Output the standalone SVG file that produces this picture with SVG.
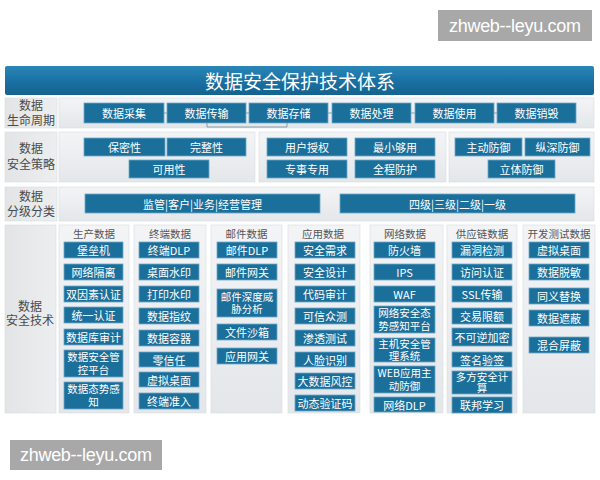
<svg xmlns="http://www.w3.org/2000/svg" width="600" height="480" viewBox="0 0 600 480">
<defs>
<linearGradient id="tg" x1="0" y1="0" x2="0" y2="1"><stop offset="0" stop-color="#2a86b8"/><stop offset="0.5" stop-color="#1a72a4"/><stop offset="1" stop-color="#15628f"/></linearGradient>
<linearGradient id="pg" x1="0" y1="0" x2="0" y2="1"><stop offset="0" stop-color="#f3f4f6"/><stop offset="1" stop-color="#e4e7ea"/></linearGradient>
<linearGradient id="lg" x1="0" y1="0" x2="1" y2="0"><stop offset="0" stop-color="#e2e4e6"/><stop offset="1" stop-color="#eceef0"/></linearGradient>
</defs>
<style>
.panel{fill:url(#pg);stroke:#d8dcdf;stroke-width:0.6}
.lc{fill:url(#lg);stroke:#d8dcdf;stroke-width:0.6}
.box{fill:#1b6f9b;stroke:#6fa9c9;stroke-width:0.8}
.bt{fill:#ffffff;font-family:"Noto Sans CJK SC","Liberation Sans",sans-serif;font-size:11px;text-anchor:middle;dominant-baseline:central}
.b2{fill:#ffffff;font-family:"Noto Sans CJK SC","Liberation Sans",sans-serif;font-size:10.5px;text-anchor:middle}
.lab{fill:#4a4a4a;font-family:"Noto Sans CJK SC",sans-serif;font-size:12px;text-anchor:middle}
.hd{fill:#555555;font-family:"Noto Sans CJK SC",sans-serif;font-size:10.5px;text-anchor:middle;dominant-baseline:central}
.wm{fill:#a8a8a8}
.wt{fill:#ffffff;font-family:"Liberation Sans",sans-serif;font-size:18px;text-anchor:middle;dominant-baseline:central}
.conn{fill:none;stroke:#8a9aa6;stroke-width:1}
</style>
<rect width="600" height="480" fill="#ffffff"/>
<g id="watermark-top"><rect class="wm" x="438" y="10" width="154" height="31"/><text class="wt" x="515" y="25.5" textLength="132">zhweb--leyu.com</text></g>
<g id="title"><rect x="5" y="66" width="589" height="29" rx="2" fill="url(#tg)"/><text x="300" y="80.5" fill="#ffffff" font-family="Noto Sans CJK SC, sans-serif" font-size="19" text-anchor="middle" dominant-baseline="central">数据安全保护技术体系</text></g>

<!-- Row 1 -->
<g id="row-lifecycle">
<rect class="lc" x="5" y="98" width="52" height="30"/>
<text class="lab" x="31" y="110">数据<tspan x="31" dy="15">生命周期</tspan></text>
<rect class="panel" x="59" y="98" width="535" height="30"/>
</g>
<g id="connectors"><path class="conn" d="M207 123 V127 H287 V123"/><path class="conn" d="M164 113 H167 M246 113 H249 M328 113 H332 M411 113 H415 M494 113 H497"/></g>
<g id="n-caiji"><rect class="box" x="84" y="103" width="80" height="20"/><text class="bt" x="124" y="113">数据采集</text></g>
<g id="n-chuanshu"><rect class="box" x="167" y="103" width="79" height="20"/><text class="bt" x="206.5" y="113">数据传输</text></g>
<g id="n-cunchu"><rect class="box" x="249" y="103" width="79" height="20"/><text class="bt" x="288.5" y="113">数据存储</text></g>
<g id="n-chuli"><rect class="box" x="332" y="103" width="79" height="20"/><text class="bt" x="371.5" y="113">数据处理</text></g>
<g id="n-shiyong"><rect class="box" x="415" y="103" width="79" height="20"/><text class="bt" x="454.5" y="113">数据使用</text></g>
<g id="n-xiaohui"><rect class="box" x="497" y="103" width="79" height="20"/><text class="bt" x="536.5" y="113">数据销毁</text></g>

<!-- Row 2 -->
<g id="row-strategy">
<rect class="lc" x="5" y="132" width="52" height="50"/>
<text class="lab" x="31" y="153">数据<tspan x="31" dy="16">安全策略</tspan></text>
<rect class="panel" x="59" y="132" width="196" height="50"/>
<rect class="panel" x="259" y="132" width="187" height="50"/>
<rect class="panel" x="449" y="132" width="145" height="50"/>
</g>
<g id="n-baomi"><rect class="box" x="84" y="138" width="81" height="18"/><text class="bt" x="124.5" y="147">保密性</text></g>
<g id="n-wanzheng"><rect class="box" x="167" y="138" width="79" height="18"/><text class="bt" x="206.5" y="147">完整性</text></g>
<g id="n-keyong"><rect class="box" x="129" y="160" width="80" height="18"/><text class="bt" x="169" y="169">可用性</text></g>
<g id="n-shouquan"><rect class="box" x="267" y="138" width="80" height="18"/><text class="bt" x="307" y="147">用户授权</text></g>
<g id="n-zuixiao"><rect class="box" x="355" y="138" width="80" height="18"/><text class="bt" x="395" y="147">最小够用</text></g>
<g id="n-zhuanshi"><rect class="box" x="267" y="160" width="80" height="18"/><text class="bt" x="307" y="169">专事专用</text></g>
<g id="n-quancheng"><rect class="box" x="355" y="160" width="80" height="18"/><text class="bt" x="395" y="169">全程防护</text></g>
<g id="n-zhudong"><rect class="box" x="455" y="138" width="67" height="18"/><text class="bt" x="488.5" y="147">主动防御</text></g>
<g id="n-zongshen"><rect class="box" x="525" y="138" width="65" height="18"/><text class="bt" x="557.5" y="147">纵深防御</text></g>
<g id="n-liti"><rect class="box" x="488" y="160" width="67" height="18"/><text class="bt" x="521.5" y="169">立体防御</text></g>

<!-- Row 3 -->
<g id="row-classify">
<rect class="lc" x="5" y="187" width="52" height="34"/>
<text class="lab" x="31" y="201">数据<tspan x="31" dy="15">分级分类</tspan></text>
<rect class="panel" x="59" y="187" width="535" height="34"/>
</g>
<g id="n-jianguan"><rect class="box" x="85" y="194" width="235" height="19"/><text class="bt" x="202.5" y="203.5">监管|客户|业务|经营管理</text></g>
<g id="n-siji"><rect class="box" x="340" y="194" width="235" height="19"/><text class="bt" x="457.5" y="203.5">四级|三级|二级|一级</text></g>

<!-- Row 4 -->
<g id="row-tech">
<rect class="lc" x="5" y="225" width="51" height="188"/>
<text class="lab" x="30" y="311">数据<tspan x="30" dy="14">安全技术</tspan></text>
<rect class="panel" x="59" y="225" width="70" height="188"/>
<rect class="panel" x="134" y="225" width="72" height="188"/>
<rect class="panel" x="211" y="225" width="71" height="188"/>
<rect class="panel" x="288" y="225" width="72" height="188"/>
<rect class="panel" x="370" y="225" width="73" height="188"/>
<rect class="panel" x="447" y="225" width="70" height="188"/>
<rect class="panel" x="523" y="225" width="72" height="188"/>
<text class="hd" x="94" y="233">生产数据</text>
<text class="hd" x="170" y="233">终端数据</text>
<text class="hd" x="246.5" y="233">邮件数据</text>
<text class="hd" x="323" y="233">应用数据</text>
<text class="hd" x="405" y="233">网络数据</text>
<text class="hd" x="482" y="233">供应链数据</text>
<text class="hd" x="559" y="233">开发测试数据</text>
</g>

<!-- col 1 -->
<g id="n-baolei"><rect class="box" x="64" y="242" width="59" height="16"/><text class="bt" x="93.5" y="250">堡垒机</text></g>
<g id="n-geli"><rect class="box" x="64" y="264" width="59" height="16"/><text class="bt" x="93.5" y="272">网络隔离</text></g>
<g id="n-shuangyinsu"><rect class="box" x="64" y="286" width="59" height="16"/><text class="bt" x="93.5" y="294">双因素认证</text></g>
<g id="n-tongyi"><rect class="box" x="64" y="307" width="59" height="16"/><text class="bt" x="93.5" y="315">统一认证</text></g>
<g id="n-shujuku"><rect class="box" x="64" y="329" width="59" height="16"/><text class="bt" x="93.5" y="337">数据库审计</text></g>
<g id="n-guankong"><rect class="box" x="64" y="350" width="59" height="27"/><text class="b2" x="93.5" y="361">数据安全管<tspan x="93.5" dy="12.5">控平台</tspan></text></g>
<g id="n-taishi1"><rect class="box" x="64" y="382" width="59" height="27"/><text class="b2" x="93.5" y="393">数据态势感<tspan x="93.5" dy="12.5">知</tspan></text></g>

<!-- col 2 -->
<g id="n-zdlp"><rect class="box" x="139" y="242" width="60" height="16"/><text class="bt" x="169" y="250">终端DLP</text></g>
<g id="n-zhuomian"><rect class="box" x="139" y="264" width="60" height="16"/><text class="bt" x="169" y="272">桌面水印</text></g>
<g id="n-dayin"><rect class="box" x="139" y="286" width="60" height="16"/><text class="bt" x="169" y="294">打印水印</text></g>
<g id="n-zhiwen"><rect class="box" x="139" y="308" width="60" height="16"/><text class="bt" x="169" y="316">数据指纹</text></g>
<g id="n-rongqi"><rect class="box" x="139" y="330" width="60" height="16"/><text class="bt" x="169" y="338">数据容器</text></g>
<g id="n-lingxin"><rect class="box" x="139" y="352" width="60" height="15"/><text class="bt" x="169" y="359.5">零信任</text></g>
<g id="n-xuni1"><rect class="box" x="139" y="372" width="60" height="15"/><text class="bt" x="169" y="379.5">虚拟桌面</text></g>
<g id="n-zhunru"><rect class="box" x="139" y="393" width="60" height="16"/><text class="bt" x="169" y="401">终端准入</text></g>

<!-- col 3 -->
<g id="n-ydlp"><rect class="box" x="217" y="242" width="60" height="16"/><text class="bt" x="247" y="250">邮件DLP</text></g>
<g id="n-ywg"><rect class="box" x="217" y="264" width="60" height="16"/><text class="bt" x="247" y="272">邮件网关</text></g>
<g id="n-shendu"><rect class="box" x="217" y="289" width="60" height="28"/><text class="b2" x="247" y="300.5">邮件深度威<tspan x="247" dy="12.5">胁分析</tspan></text></g>
<g id="n-shaxiang"><rect class="box" x="217" y="324" width="60" height="16"/><text class="bt" x="247" y="332">文件沙箱</text></g>
<g id="n-yywg"><rect class="box" x="217" y="348" width="60" height="16"/><text class="bt" x="247" y="356">应用网关</text></g>

<!-- col 4 -->
<g id="n-xuqiu"><rect class="box" x="295" y="242" width="60" height="16"/><text class="bt" x="325" y="250">安全需求</text></g>
<g id="n-sheji"><rect class="box" x="295" y="264" width="60" height="16"/><text class="bt" x="325" y="272">安全设计</text></g>
<g id="n-daima"><rect class="box" x="295" y="286" width="60" height="16"/><text class="bt" x="325" y="294">代码审计</text></g>
<g id="n-kexin"><rect class="box" x="295" y="308" width="60" height="16"/><text class="bt" x="325" y="316">可信众测</text></g>
<g id="n-shentou"><rect class="box" x="295" y="330" width="60" height="16"/><text class="bt" x="325" y="338">渗透测试</text></g>
<g id="n-renlian"><rect class="box" x="295" y="352" width="60" height="15"/><text class="bt" x="325" y="359.5">人脸识别</text></g>
<g id="n-fengkong"><rect class="box" x="295" y="373" width="60" height="16"/><text class="bt" x="325" y="381">大数据风控</text></g>
<g id="n-yanzheng"><rect class="box" x="295" y="395" width="60" height="16"/><text class="bt" x="325" y="403">动态验证码</text></g>

<!-- col 5 -->
<g id="n-fanghuo"><rect class="box" x="374" y="242" width="61" height="16"/><text class="bt" x="404.5" y="250">防火墙</text></g>
<g id="n-ips"><rect class="box" x="374" y="264" width="61" height="16"/><text class="bt" x="404.5" y="272">IPS</text></g>
<g id="n-waf"><rect class="box" x="374" y="286" width="61" height="16"/><text class="bt" x="404.5" y="294">WAF</text></g>
<g id="n-taishi2"><rect class="box" x="374" y="306" width="61" height="27"/><text class="b2" x="404.5" y="317">网络安全态<tspan x="404.5" dy="12.5">势感知平台</tspan></text></g>
<g id="n-zhuji"><rect class="box" x="374" y="338" width="61" height="24"/><text class="b2" x="404.5" y="347.5">主机安全管<tspan x="404.5" dy="12">理系统</tspan></text></g>
<g id="n-web"><rect class="box" x="374" y="366" width="61" height="27"/><text class="b2" x="404.5" y="377">WEB应用主<tspan x="404.5" dy="12.5">动防御</tspan></text></g>
<g id="n-wdlp"><rect class="box" x="374" y="397" width="61" height="15"/><text class="bt" x="404.5" y="404.5">网络DLP</text></g>

<!-- col 6 -->
<g id="n-loudong"><rect class="box" x="452" y="242" width="60" height="16"/><text class="bt" x="482" y="250">漏洞检测</text></g>
<g id="n-fangwen"><rect class="box" x="452" y="264" width="60" height="16"/><text class="bt" x="482" y="272">访问认证</text></g>
<g id="n-ssl"><rect class="box" x="452" y="286" width="60" height="16"/><text class="bt" x="482" y="294">SSL传输</text></g>
<g id="n-xiane"><rect class="box" x="452" y="308" width="60" height="16"/><text class="bt" x="482" y="316">交易限额</text></g>
<g id="n-bukeni"><rect class="box" x="452" y="328" width="60" height="18"/><text class="bt" x="482" y="337">不可逆加密</text></g>
<g id="n-qianming"><rect class="box" x="452" y="352" width="60" height="15"/><text class="bt" x="482" y="359.5">签名验签</text></g>
<g id="n-duofang"><rect class="box" x="452" y="371" width="60" height="23"/><text class="b2" x="482" y="380.5">多方安全计<tspan x="482" dy="11.5">算</tspan></text></g>
<g id="n-lianbang"><rect class="box" x="452" y="397" width="60" height="16"/><text class="bt" x="482" y="405">联邦学习</text></g>

<!-- col 7 -->
<g id="n-xuni2"><rect class="box" x="529" y="242" width="60" height="16"/><text class="bt" x="559" y="250">虚拟桌面</text></g>
<g id="n-tuomin"><rect class="box" x="529" y="264" width="60" height="16"/><text class="bt" x="559" y="272">数据脱敏</text></g>
<g id="n-tiyi"><rect class="box" x="529" y="288" width="60" height="16"/><text class="bt" x="559" y="296">同义替换</text></g>
<g id="n-zhebi"><rect class="box" x="529" y="310" width="60" height="16"/><text class="bt" x="559" y="318">数据遮蔽</text></g>
<g id="n-hunhe"><rect class="box" x="529" y="337" width="60" height="16"/><text class="bt" x="559" y="345">混合屏蔽</text></g>

<g id="watermark-bottom"><rect class="wm" x="10" y="440" width="152" height="30"/><text class="wt" x="86" y="455" textLength="132">zhweb--leyu.com</text></g>
</svg>
